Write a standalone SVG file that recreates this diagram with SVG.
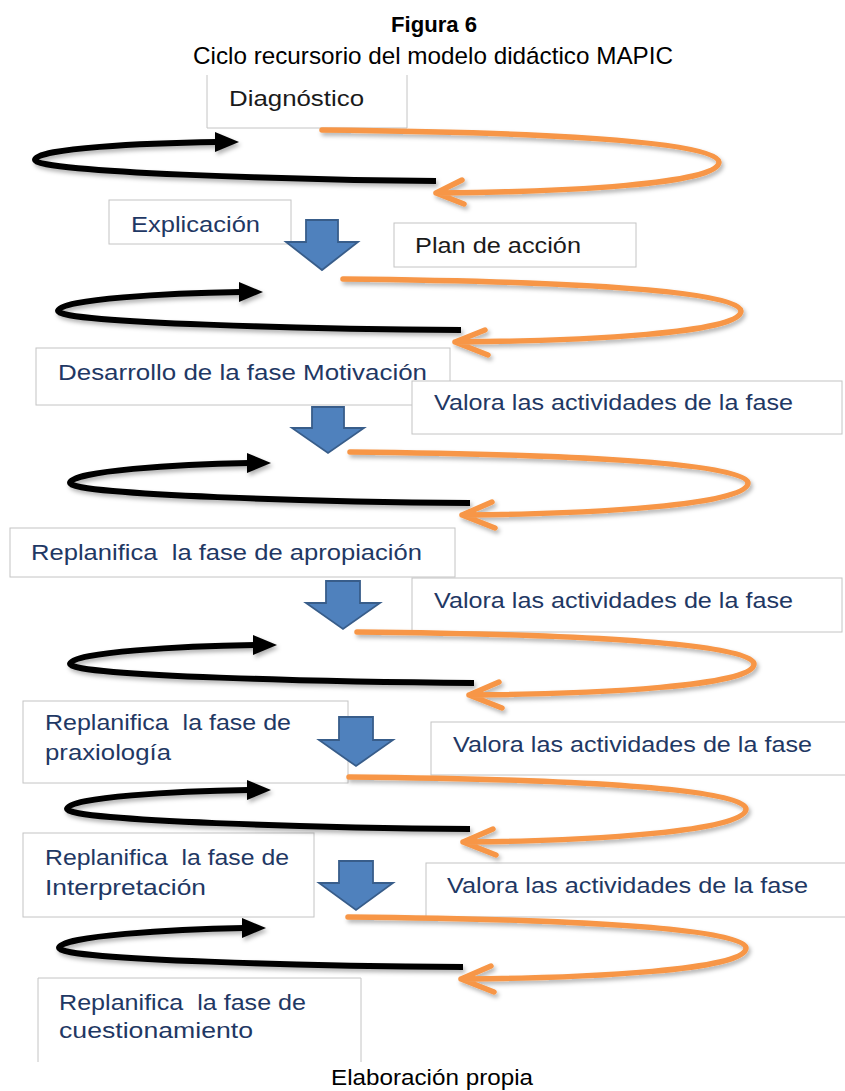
<svg xmlns="http://www.w3.org/2000/svg" width="845" height="1091" viewBox="0 0 845 1091">
<style>
.box{fill:#fff;stroke:#c4c4c4;stroke-width:1}
.t{font-family:"Liberation Sans",Arial,sans-serif;font-size:21.5px;fill:#1f3864;white-space:pre}
.k{fill:#1a1a1a}
.cap{font-family:"Liberation Sans",Arial,sans-serif;fill:#000}
.or{fill:none;stroke:#f79646;stroke-width:5.5;stroke-linecap:round;stroke-linejoin:round}
.bl{fill:none;stroke:#000;stroke-width:6}
.bh{fill:#000}
.blk{fill:#4f81bd;stroke:#385d8a;stroke-width:1.8}
</style>
<defs>
<filter id="sh" x="-10%" y="-30%" width="120%" height="160%">
<feDropShadow dx="2" dy="3" stdDeviation="2" flood-color="#000" flood-opacity="0.3"/>
</filter>
</defs>
<rect width="845" height="1091" fill="#fff"/>
<g id="title">
<text class="cap" x="434" y="32" font-size="22.5" font-weight="bold" text-anchor="middle" textLength="86" lengthAdjust="spacingAndGlyphs">Figura 6</text>
<text class="cap" x="193" y="64" font-size="24.5" textLength="480" lengthAdjust="spacingAndGlyphs">Ciclo recursorio del modelo didáctico MAPIC</text>
</g>
<g id="n1"><path class="box" d="M207,75 V128 H407 V75"/><text class="t k" x="229" y="106" textLength="135" lengthAdjust="spacingAndGlyphs">Diagnóstico</text></g>
<g id="n2"><rect class="box" x="109" y="200" width="182" height="44"/><text class="t" x="131" y="232" textLength="129" lengthAdjust="spacingAndGlyphs">Explicación</text></g>
<g id="n3"><rect class="box" x="394" y="223" width="242" height="44"/><text class="t k" x="415" y="253" textLength="166" lengthAdjust="spacingAndGlyphs">Plan de acción</text></g>
<g id="n4"><rect class="box" x="36" y="348" width="414" height="57"/><text class="t" x="58" y="380" textLength="369" lengthAdjust="spacingAndGlyphs">Desarrollo de la fase Motivación</text></g>
<g id="n5"><rect class="box" x="412" y="381" width="430" height="53"/><text class="t" x="434" y="410" textLength="359" lengthAdjust="spacingAndGlyphs">Valora las actividades de la fase</text></g>
<g id="n6"><rect class="box" x="10" y="528" width="445" height="49"/><text class="t" x="31" y="560" textLength="391" lengthAdjust="spacingAndGlyphs">Replanifica  la fase de apropiación</text></g>
<g id="n7"><rect class="box" x="412" y="578" width="430" height="54"/><text class="t" x="434" y="608" textLength="359" lengthAdjust="spacingAndGlyphs">Valora las actividades de la fase</text></g>
<g id="n8"><rect class="box" x="23" y="701" width="325" height="82"/><text class="t" x="45" y="730" textLength="246" lengthAdjust="spacingAndGlyphs">Replanifica  la fase de</text><text class="t" x="45" y="760" textLength="126" lengthAdjust="spacingAndGlyphs">praxiología</text></g>
<g id="n9"><rect class="box" x="431" y="722" width="420" height="53"/><text class="t" x="453" y="752" textLength="359" lengthAdjust="spacingAndGlyphs">Valora las actividades de la fase</text></g>
<g id="n10"><rect class="box" x="23" y="833" width="291" height="84"/><text class="t" x="45" y="865" textLength="244" lengthAdjust="spacingAndGlyphs">Replanifica  la fase de</text><text class="t" x="45" y="895" textLength="161" lengthAdjust="spacingAndGlyphs">Interpretación</text></g>
<g id="n11"><rect class="box" x="426" y="863" width="425" height="54"/><text class="t" x="447" y="893" textLength="361" lengthAdjust="spacingAndGlyphs">Valora las actividades de la fase</text></g>
<g id="n12"><path class="box" d="M38,1062 V978 H361 V1062"/><text class="t" x="59" y="1010" textLength="247" lengthAdjust="spacingAndGlyphs">Replanifica  la fase de</text><text class="t" x="59" y="1038" textLength="194" lengthAdjust="spacingAndGlyphs">cuestionamiento</text></g>
<g id="connectors">
<g id="loops" filter="url(#sh)">
<path class="or" d="M322,130 C522,132 719,140 719,162 C719,184 566,192 436,193 M462,180 L436,193 L464,204"/>
<path class="bl" d="M436,181 C296,180 35,172 35,160 C35,148 147,143 217,142"/>
<polygon class="bh" points="239,142 215,132 215,152"/>
<path class="or" d="M343,279 C543,281 741,289 741,311 C741,333 585,341 455,342 M485,330 L455,342 L488,355"/>
<path class="bl" d="M461,330 C321,329 58,323 58,311 C58,299 171,293 241,292"/>
<polygon class="bh" points="263,292 239,282 239,302"/>
<path class="or" d="M350,452 C550,454 748,462 748,483 C748,505 592,514 462,515 M492,502 L462,515 L495,528"/>
<path class="bl" d="M470,503 C330,502 70,495 70,483 C70,471 179,464 249,463"/>
<polygon class="bh" points="271,463 247,453 247,473"/>
<path class="or" d="M357,632 C557,634 754,642 754,664 C754,686 599,694 469,695 M499,682 L469,695 L502,708"/>
<path class="bl" d="M474,683 C334,682 70,676 70,664 C70,652 185,646 255,645"/>
<polygon class="bh" points="277,645 253,635 253,655"/>
<path class="or" d="M349,777 C549,779 746,787 746,809 C746,831 593,841 463,842 M493,829 L463,842 L496,855"/>
<path class="bl" d="M470,829 C330,828 67,821 67,809 C67,797 179,791 249,790"/>
<polygon class="bh" points="271,790 247,780 247,800"/>
<path class="or" d="M348,917 C548,919 746,927 746,948 C746,970 591,978 461,979 M491,966 L461,979 L494,992"/>
<path class="bl" d="M463,967 C323,966 59,960 59,948 C59,936 174,929 244,928"/>
<polygon class="bh" points="266,928 242,918 242,938"/>
</g>
<g id="block-arrows">
<polygon class="blk" points="306,220 338,220 338,242 358,242 322,270 286,242 306,242"/>
<polygon class="blk" points="312,407 344,407 344,428 364,428 328,453 292,428 312,428"/>
<polygon class="blk" points="326,581 360,581 360,603 380,603 343,629 306,603 326,603"/>
<polygon class="blk" points="339,717 373,717 373,740 393,740 356,766 319,740 339,740"/>
<polygon class="blk" points="339,861 373,861 373,883 393,883 356,910 319,883 339,883"/>
</g>
</g>
<g id="footer">
<text class="cap" x="331" y="1085" font-size="22.5" textLength="202" lengthAdjust="spacingAndGlyphs">Elaboración propia</text>
</g>
</svg>
